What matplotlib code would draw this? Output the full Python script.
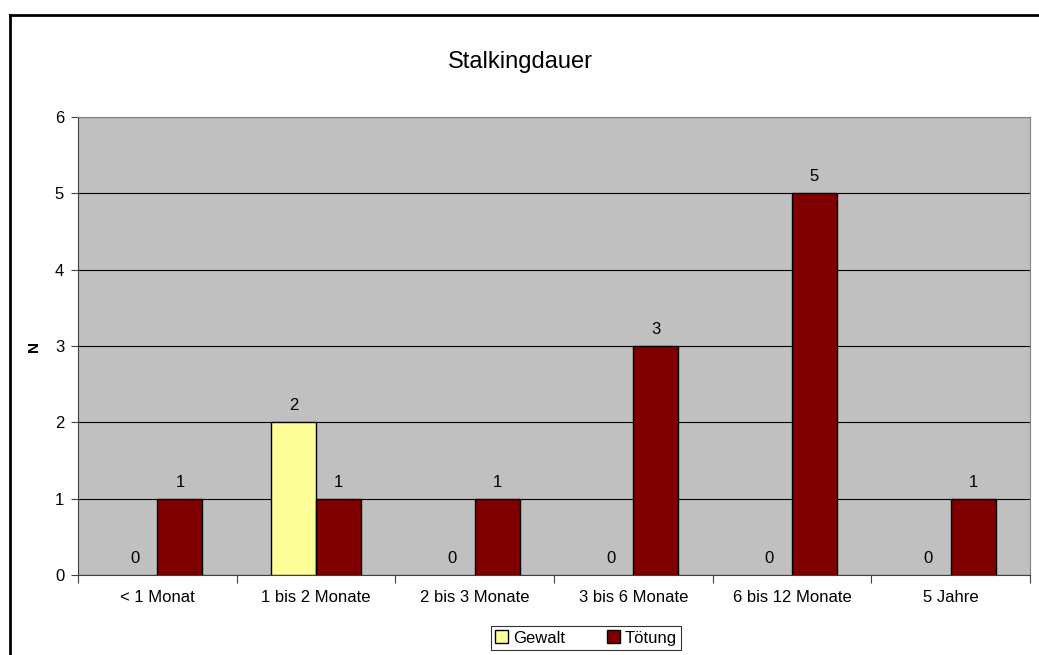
import numpy as np
import matplotlib.pyplot as plt
from matplotlib.lines import Line2D
from matplotlib.patches import Patch

plt.rcParams['font.family'] = ['Liberation Sans', 'DejaVu Sans']

# Data
categories = ['< 1 Monat', '1 bis 2 Monate', '2 bis 3 Monate', '3 bis 6 Monate', '6 bis 12 Monate', '5 Jahre']
gewalt = [0, 2, 0, 0, 0, 0]
toetung = [1, 1, 1, 3, 5, 1]
colors = {'Gewalt': '#ffff99', 'Tötung': '#800000'}

fig = plt.figure(figsize=(10.39, 6.55), dpi=100)
ax = fig.add_axes([0.0751, 0.1221, 0.9162, 0.6993])
ax.set_facecolor('#c0c0c0')

x = np.arange(len(categories))
w = 0.284
b1 = ax.bar(x - w / 2, gewalt, w, color=colors['Gewalt'], edgecolor='black',
            linewidth=[1 if v > 0 else 0 for v in gewalt], zorder=3)
b2 = ax.bar(x + w / 2, toetung, w, color=colors['Tötung'], edgecolor='black',
            linewidth=[1 if v > 0 else 0 for v in toetung], zorder=3)

for bars in (b1, b2):
    for r in bars:
        h = r.get_height()
        ax.text(r.get_x() + r.get_width() / 2, h + 0.12, str(int(h)),
                ha='center', va='bottom', fontsize=12, zorder=4)

ax.set_xlim(-0.5, len(categories) - 0.5)
ax.set_ylim(0, 6)
ax.set_yticks(range(0, 7))
ax.yaxis.grid(True, color='black', linewidth=0.8, zorder=1)
ax.set_axisbelow(True)

# category labels between the ticks
ax.set_xticks(np.arange(-0.5, len(categories), 1.0))
ax.set_xticklabels([])
ax.set_xticks(x, minor=True)
ax.set_xticklabels(categories, minor=True, fontsize=12)
ax.tick_params(axis='x', which='minor', length=0, pad=11)
ax.tick_params(axis='x', which='major', length=6, direction='out', color='#404040')
ax.tick_params(axis='y', length=5, direction='out', labelsize=12, color='#404040', pad=5)

for s in ['left', 'bottom']:
    ax.spines[s].set_color('#404040')
for s in ['top', 'right']:
    ax.spines[s].set_color('#808080')

ax.set_ylabel('N', fontsize=11, fontweight='bold')
ax.yaxis.set_label_coords(-0.039, 0.5)
fig.text(520 / 1039, 1 - 62 / 655, 'Stalkingdauer', ha='center', va='center', fontsize=17)

handles = [Patch(facecolor=c, edgecolor='black', linewidth=1, label=k) for k, c in colors.items()]
leg = ax.legend(handles=handles, loc='center', bbox_to_anchor=(586 / 1039, 17 / 655),
                bbox_transform=fig.transFigure, ncol=2, fontsize=12, frameon=True,
                fancybox=False, edgecolor='black', handlelength=0.8, handleheight=0.8,
                handletextpad=0.3, columnspacing=2.5, borderpad=0.25)
leg.get_frame().set_linewidth(0.8)

# outer chart border (left and top visible)
fig.add_artist(Line2D([10 / 1039, 10 / 1039], [0, 1 - 15 / 655], color='black', linewidth=2, transform=fig.transFigure))
fig.add_artist(Line2D([10 / 1039, 1], [1 - 15 / 655, 1 - 15 / 655], color='black', linewidth=2, transform=fig.transFigure))

fig.savefig('out.png', dpi=100)
